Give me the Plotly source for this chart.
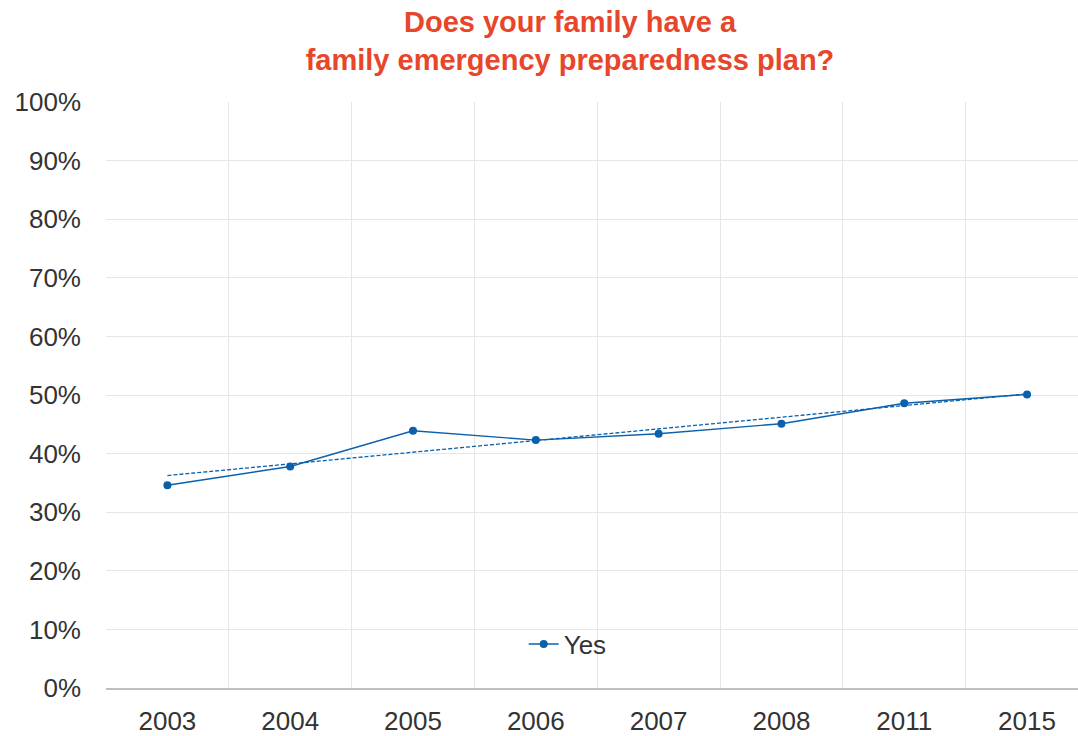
import numpy as np
import plotly.graph_objects as go

years = ["2003", "2004", "2005", "2006", "2007", "2008", "2011", "2015"]
yes_pct = [34.6, 37.8, 43.9, 42.3, 43.4, 45.1, 48.6, 50.1]
y_ticks = [0, 10, 20, 30, 40, 50, 60, 70, 80, 90, 100]
y_tick_labels = [f"{v}%" for v in y_ticks]

idx = np.arange(len(years))
slope, intercept = np.polyfit(idx, yes_pct, 1)
trend = slope * idx + intercept

color = "#0A60AC"
font_family = "Liberation Sans, Arial, sans-serif"

fig = go.Figure()
fig.add_trace(go.Scatter(
    x=years, y=trend, mode="lines",
    line=dict(color=color, width=1.3, dash="4px,2px"),
    showlegend=False, hoverinfo="skip",
))
fig.add_trace(go.Scatter(
    x=years, y=yes_pct, mode="lines+markers", name="Yes",
    line=dict(color=color, width=1.4),
    marker=dict(color=color, size=8),
))

fig.update_layout(
    width=1078, height=736,
    margin=dict(l=106, r=0, t=102, b=48),
    paper_bgcolor="white", plot_bgcolor="white",
    font=dict(family=font_family, color="#333333"),
    title=dict(
        text="Does your family have a<br>family emergency preparedness plan?",
        x=570 / 1078, xanchor="center", y=1 - 32 / 736, yanchor="middle",
        font=dict(size=29, color="#E8462A", family=font_family, weight="bold"),
    ),
    showlegend=True,
    legend=dict(
        x=0.475, xanchor="center", y=0.075, yanchor="middle",
        bgcolor="rgba(0,0,0,0)", font=dict(size=26, color="#333333"),
        itemwidth=30,
    ),
    xaxis=dict(
        type="category", categoryorder="array", categoryarray=years,
        range=[-0.5, 7.415], automargin=False,
        tickson="boundaries", showgrid=True, gridcolor="#E6E6E6", gridwidth=1,
        showline=True, linecolor="#BFBFBF", linewidth=1.5,
        ticks="", tickfont=dict(size=26, color="#333333"),
        ticklabelstandoff=9,
        zeroline=False,
    ),
    yaxis=dict(
        range=[0, 100], tickvals=y_ticks, ticktext=y_tick_labels,
        showgrid=True, gridcolor="#E6E6E6", gridwidth=1,
        showline=False, zeroline=False, ticks="", automargin=False,
        tickfont=dict(size=26, color="#333333"),
        ticklabelstandoff=24,
    ),
)

fig.write_html("out.html")
